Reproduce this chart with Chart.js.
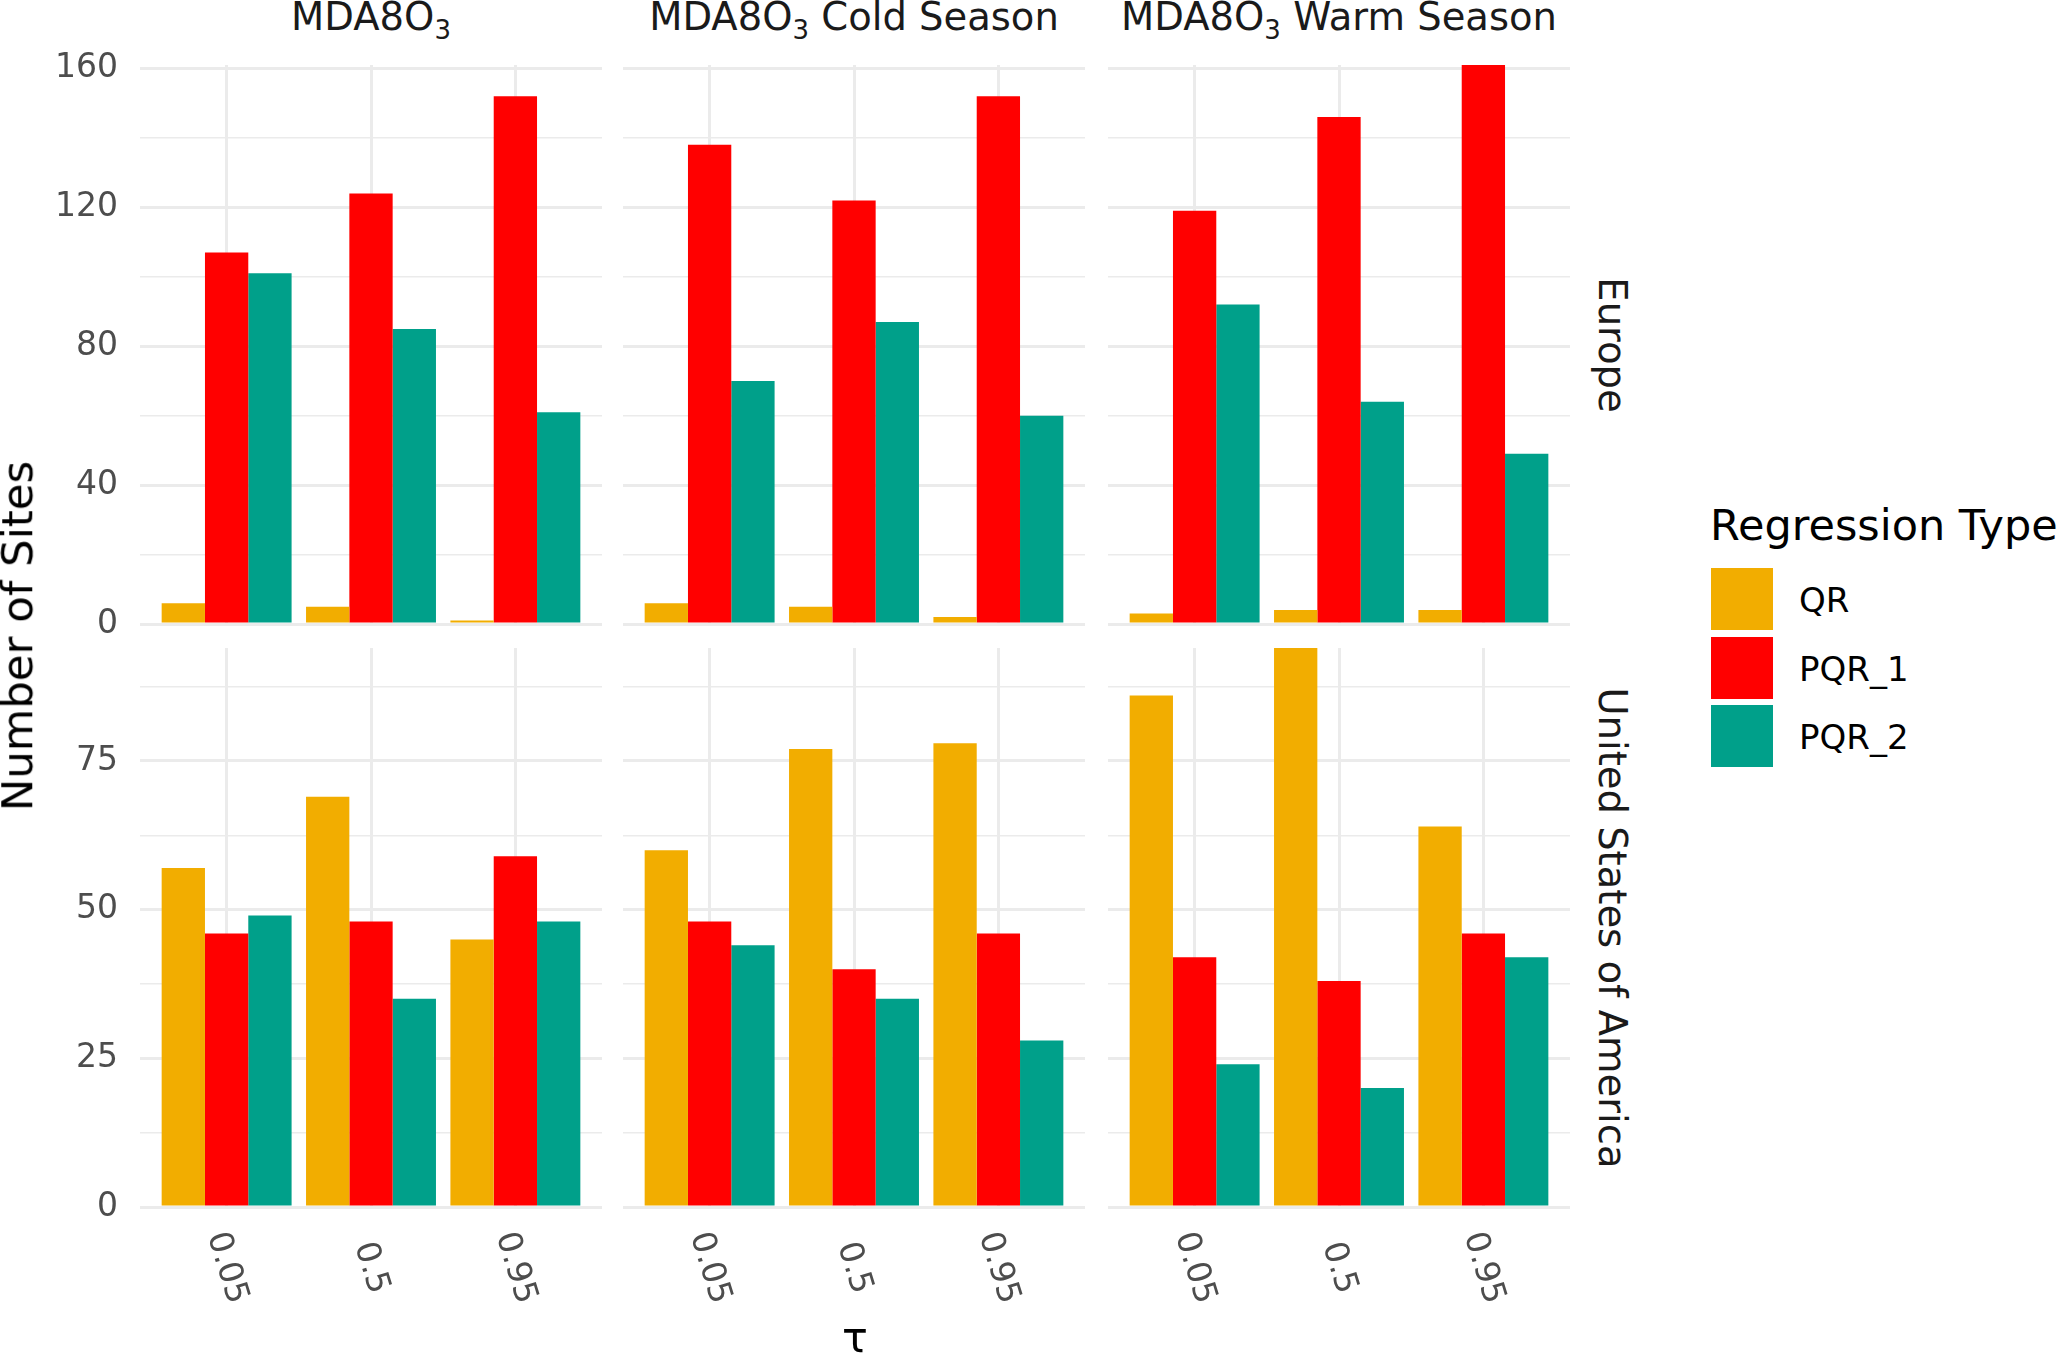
<!DOCTYPE html>
<html>
<head>
<meta charset="utf-8">
<script src="https://cdn.jsdelivr.net/npm/chart.js@4.4.1/dist/chart.umd.min.js"></script>
<style>
  body { margin: 0; background: #fff; }
  #page { position: relative; width: 2067px; height: 1353px; overflow: hidden; font-family: 'DejaVu Sans'; }
  .abs { position: absolute; white-space: nowrap; }
  .strip { font-size: 38.5px; line-height: 38.5px; color: #1A1A1A; text-align: center; }
  .sub { font-size: 26px; position: relative; top: 9px; }
  .key { position: absolute; width: 62px; height: 62px; }
  .keylab { font-size: 34px; line-height: 34px; color: #000; }
  canvas { position: absolute; }
</style>
</head>
<body>
<div id="page"></div>
<script>
// tau levels and regression types
const taus = ['0.05', '0.5', '0.95'];
const regTypes = ['QR', 'PQR_1', 'PQR_2'];
const regColors = ['#F2AD00', '#FF0000', '#00A08A'];
const seasonSuffix = ['', ' Cold Season', ' Warm Season'];
const regions = ['Europe', 'United States of America'];

// Europe, counts per tau
const euAllQR = [6, 5, 1];
const euAllPQR1 = [107, 124, 152];
const euAllPQR2 = [101, 85, 61];
const euColdQR = [6, 5, 2];
const euColdPQR1 = [138, 122, 152];
const euColdPQR2 = [70, 87, 60];
const euWarmQR = [3, 4, 4];
const euWarmPQR1 = [119, 146, 161];
const euWarmPQR2 = [92, 64, 49];

// USA, counts per tau
const usAllQR = [57, 69, 45];
const usAllPQR1 = [46, 48, 59];
const usAllPQR2 = [49, 35, 48];
const usColdQR = [60, 77, 78];
const usColdPQR1 = [48, 40, 46];
const usColdPQR2 = [44, 35, 28];
const usWarmQR = [86, 94, 64];
const usWarmPQR1 = [42, 38, 46];
const usWarmPQR2 = [24, 20, 42];

// y axis ticks per row (free scales)
const europeTicks = [0, 40, 80, 120, 160];
const europeMax = 161;
const usaTicks = [0, 25, 50, 75];
const usaMax = 94;

const rows = [
  { ticks: europeTicks, max: europeMax, panels: [
    [euAllQR, euAllPQR1, euAllPQR2],
    [euColdQR, euColdPQR1, euColdPQR2],
    [euWarmQR, euWarmPQR1, euWarmPQR2],
  ] },
  { ticks: usaTicks, max: usaMax, panels: [
    [usAllQR, usAllPQR1, usAllPQR2],
    [usColdQR, usColdPQR1, usColdPQR2],
    [usWarmQR, usWarmPQR1, usWarmPQR2],
  ] },
];

// layout
const colLeft = [140, 623, 1108];
const panelW = 462;
const rowTop = [65, 648];
const panelH = 559;
const PAD = 20;
const X_LABEL_SPACE = 146;
const GRID = '#EBEBEB';

const page = document.getElementById('page');

const addText = (html, cls, style) => {
  const el = document.createElement('div');
  el.className = 'abs ' + (cls || '');
  el.innerHTML = html;
  Object.assign(el.style, style);
  page.appendChild(el);
  return el;
};

// rotated tau labels under bottom row
const tauLabels = {
  id: 'tauLabels',
  afterDraw(chart, args, opts) {
    if (!opts.show) return;
    const { ctx, chartArea, scales } = chart;
    ctx.save();
    ctx.font = '33px "DejaVu Sans"';
    ctx.fillStyle = '#4D4D4D';
    ctx.textAlign = 'center';
    ctx.textBaseline = 'middle';
    taus.forEach((t, i) => {
      const x = scales.x.getPixelForValue(i + 1);
      ctx.save();
      ctx.translate(x, chartArea.bottom + 61);
      ctx.rotate(73 * Math.PI / 180);
      ctx.fillText(t, 0, 0);
      ctx.restore();
    });
    ctx.restore();
  },
};

const gridTicks = (ticks, max) => {
  const step = ticks[1] - ticks[0];
  const all = [];
  ticks.forEach((m) => {
    all.push(m);
    if (m + step / 2 <= max) all.push(m + step / 2);
  });
  return all;
};

rows.forEach((row, r) => {
  const allTicks = gridTicks(row.ticks, row.max);
  row.panels.forEach((series, c) => {
    const canvas = document.createElement('canvas');
    const left = c === 0 ? 0 : colLeft[c];
    const width = c === 0 ? colLeft[0] + panelW : panelW;
    const top = rowTop[r] - PAD;
    const height = PAD + panelH + (r === 1 ? X_LABEL_SPACE : PAD);
    canvas.width = width;
    canvas.height = height;
    canvas.style.left = left + 'px';
    canvas.style.top = top + 'px';
    canvas.style.width = width + 'px';
    canvas.style.height = height + 'px';
    page.appendChild(canvas);

    new Chart(canvas.getContext('2d'), {
      type: 'bar',
      data: {
        datasets: regTypes.map((name, k) => ({
          label: name,
          data: series[k].map((v, i) => ({ x: i + 1, y: v })),
          backgroundColor: regColors[k],
          borderWidth: 0,
          categoryPercentage: 0.9,
          barPercentage: 1.0,
        })),
      },
      options: {
        responsive: false,
        animation: false,
        devicePixelRatio: 1,
        layout: { padding: { top: PAD, bottom: r === 1 ? X_LABEL_SPACE : PAD, left: 0, right: 0 } },
        plugins: {
          legend: { display: false },
          tooltip: { enabled: false },
          tauLabels: { show: r === 1 },
        },
        scales: {
          x: {
            type: 'linear',
            min: 0.4,
            max: 3.6,
            offset: false,
            grid: { offset: false, color: GRID, lineWidth: 3, drawTicks: false },
            border: { display: false },
            ticks: { display: false, autoSkip: false },
            afterBuildTicks: (s) => { s.ticks = taus.map((t, i) => ({ value: i + 1 })); },
            afterFit: (s) => {
              s.height = 0;
              s.paddingLeft = 0;
              s.paddingRight = 0;
            },
          },
          y: {
            type: 'linear',
            min: 0,
            max: row.max,
            grid: {
              color: GRID,
              lineWidth: ctx => (row.ticks.includes(ctx.tick.value) ? 3 : 1.5),
              drawTicks: false,
            },
            border: { display: false },
            ticks: {
              display: c === 0,
              autoSkip: false,
              padding: 22,
              color: '#4D4D4D',
              font: { size: 33, family: 'DejaVu Sans' },
              callback: v => (row.ticks.includes(v) ? String(v) : ''),
            },
            afterBuildTicks: (s) => { s.ticks = allTicks.map(v => ({ value: v })); },
            afterFit: (s) => {
              s.width = c === 0 ? colLeft[0] : 0;
              // labels spill into the canvas margin, keep the plot area fixed
              s.paddingTop = 0;
              s.paddingBottom = 0;
            },
          },
        },
      },
      plugins: [tauLabels],
    });
  });
});

// facet strips on top
seasonSuffix.forEach((suffix, c) => {
  addText('MDA8O<span class="sub">3</span>' + suffix, 'strip', {
    left: colLeft[c] + 'px', width: panelW + 'px', top: '-2px',
  });
});

// facet strips on the right
regions.forEach((name, r) => {
  addText(name, 'strip', {
    left: '1612px', top: (rowTop[r] + panelH / 2) + 'px',
    transform: 'translate(-50%, -50%) rotate(90deg)',
  });
});

// axis titles
addText('Number of Sites', '', {
  left: '18px', top: '636px', fontSize: '43.5px', lineHeight: '43.5px', color: '#000',
  transform: 'translate(-50%, -50%) rotate(-90deg)',
});
addText('τ', '', {
  left: '855px', top: '1316px', fontSize: '43px', lineHeight: '43px', color: '#000',
  transform: 'translateX(-50%)',
});

// legend
addText('Regression Type', '', {
  left: '1710px', top: '504px', fontSize: '43px', lineHeight: '43px', color: '#000',
});
const keyTops = [568, 637, 705];
regTypes.forEach((name, k) => {
  const key = document.createElement('div');
  key.className = 'key';
  key.style.left = '1711px';
  key.style.top = keyTops[k] + 'px';
  key.style.background = regColors[k];
  page.appendChild(key);
  addText(name, 'keylab', { left: '1799px', top: (keyTops[k] + 15) + 'px' });
});
</script>
</body>
</html>
